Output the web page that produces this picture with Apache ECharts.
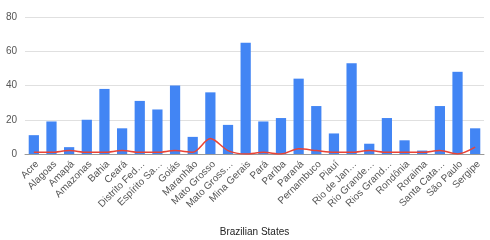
<!DOCTYPE html>
<html>
<head>
<meta charset="utf-8">
<script src="https://cdn.jsdelivr.net/npm/echarts@6/dist/echarts.min.js"></script>
<style>
  html, body { margin: 0; padding: 0; background: #fff; }
  #main { width: 490px; height: 240px; }
</style>
</head>
<body>
<div id="main"></div>
<script>
// estados (rótulos como aparecem no gráfico)
var states = ['Acre', 'Alagoas', 'Amapá', 'Amazonas', 'Bahia', 'Ceará', 'Distrito Fed…', 'Espírito Sa…',
  'Goiás', 'Maranhão', 'Mato Grosso', 'Mato Gross…', 'Mina Gerais', 'Pará', 'Paríba', 'Paraná',
  'Pernambuco', 'Piauí', 'Rio de Jan…', 'Rio Grande…', 'Rios Grand…', 'Rondônia', 'Roraima',
  'Santa Cata…', 'São Paulo', 'Sergipe'];
var barValues = [11, 19, 4, 20, 38, 15, 31, 26, 40, 10, 36, 17, 65, 19, 21, 44, 28, 12, 53, 6, 21, 8, 2, 28, 48, 15];
var lineValues = [1, 1, 2, 1, 1, 2, 1, 1, 2, 1, 9, 2, 0, 1, 0, 3, 2, 1, 1, 2, 1, 1, 1, 2, 0, 4];
var yTicks = [0, 20, 40, 60, 80];

var myChart = echarts.init(document.getElementById('main'));

var option = {
  animation: false,
  textStyle: { fontFamily: 'Arial, Liberation Sans, sans-serif' },
  grid: { left: 25, right: 6, top: 17, bottom: 86, containLabel: false, outerBoundsMode: 'none' },
  xAxis: {
    type: 'category',
    data: states,
    name: 'Brazilian States',
    nameLocation: 'middle',
    nameGap: 73,
    nameTextStyle: { color: '#222', fontSize: 10 },
    axisTick: { show: false },
    axisLine: { lineStyle: { color: '#999', width: 1 } },
    axisLabel: { rotate: 45, interval: 0, fontSize: 10, color: '#555', margin: 5, verticalAlign: 'top' }
  },
  yAxis: {
    type: 'value',
    min: yTicks[0],
    max: yTicks[yTicks.length - 1],
    interval: 20,
    axisLine: { show: false },
    axisTick: { show: false },
    axisLabel: { fontSize: 10, color: '#555', margin: 8 },
    splitLine: { lineStyle: { color: '#e0e0e0' } }
  },
  series: [{
    type: 'bar',
    data: barValues,
    barCategoryGap: '42%',
    itemStyle: { color: '#4285f4' }
  }, {
    type: 'line',
    data: lineValues,
    smooth: 0.3,
    symbol: 'none',
    lineStyle: { color: '#ea4335', width: 1.5 }
  }]
};

myChart.setOption(option);
</script>
</body>
</html>
